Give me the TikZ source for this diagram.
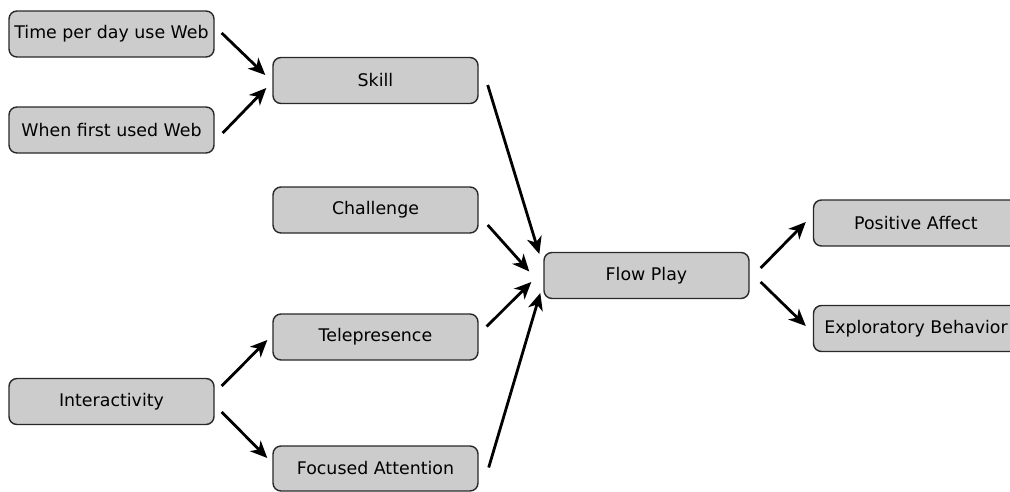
\documentclass[tikz,border=0pt]{standalone}
\usepackage{fontspec}
\setmainfont{DejaVu Sans}
\usetikzlibrary{arrows.meta,calc}
\definecolor{boxfill}{RGB}{204,204,204}
\definecolor{boxline}{RGB}{40,40,40}
\tikzset{
  box/.style={draw=boxline, line width=1.4pt, fill=boxfill, rounded corners=8pt,
    minimum width=205pt, minimum height=46pt, inner sep=0pt,
    font=\fontsize{17.4}{19}\selectfont},
  arr/.style={line width=2.8pt, black,
    -{Stealth[length=17pt, width=15pt, inset=5pt]}}
}
\begin{document}
\begin{tikzpicture}[x=1pt, y=-1pt]
\fill[white] (0,0) rectangle (1010,491);
\useasboundingbox (0,0) rectangle (1010,491);
\node[box] (time) at (111.5,34) {Time per day use Web};
\node[box] (when) at (111.5,130) {When first used Web};
\node[box] (skill) at (375.5,80.5) {Skill};
\node[box] (chal) at (375.5,210) {Challenge};
\node[box] (tele) at (375.5,337) {Telepresence};
\node[box, minimum height=45pt] (focus) at (375.5,468.5) {Focused Attention};
\node[box] (inter) at (111.5,401.5) {Interactivity};
\node[box] (flow) at (646.5,275.5) {Flow Play};
\node[box] (pos) at (916,223) {Positive Affect};
\node[box] (expl) at (916,328.5) {Exploratory Behavior};

\draw[arr] ($(time.east)+(7,-1)$) -- ($(skill.west)+(-7,-5.5)$);
\draw[arr] ($(when.east)+(8,3)$) -- ($(skill.west)+(-6,7.5)$);
\draw[arr] ($(skill.east)+(9,4.5)$) -- ($(flow.west)+(-4,-21.5)$);
\draw[arr] ($(chal.east)+(9,15)$) -- ($(flow.west)+(-14,-4)$);
\draw[arr] ($(tele.east)+(8,-10.5)$) -- ($(flow.west)+(-12,6.5)$);
\draw[arr] ($(focus.east)+(10,-1)$) -- ($(flow.west)+(-3,17.5)$);
\draw[arr] ($(flow.east)+(11,-7.5)$) -- ($(pos.west)+(-7,-1)$);
\draw[arr] ($(flow.east)+(11,6.5)$) -- ($(expl.west)+(-7,-2.5)$);
\draw[arr] ($(inter.east)+(7,-15.5)$) -- ($(tele.west)+(-5,3)$);
\draw[arr] ($(inter.east)+(7,10.5)$) -- ($(focus.west)+(-5,-10.5)$);
\end{tikzpicture}
\end{document}
